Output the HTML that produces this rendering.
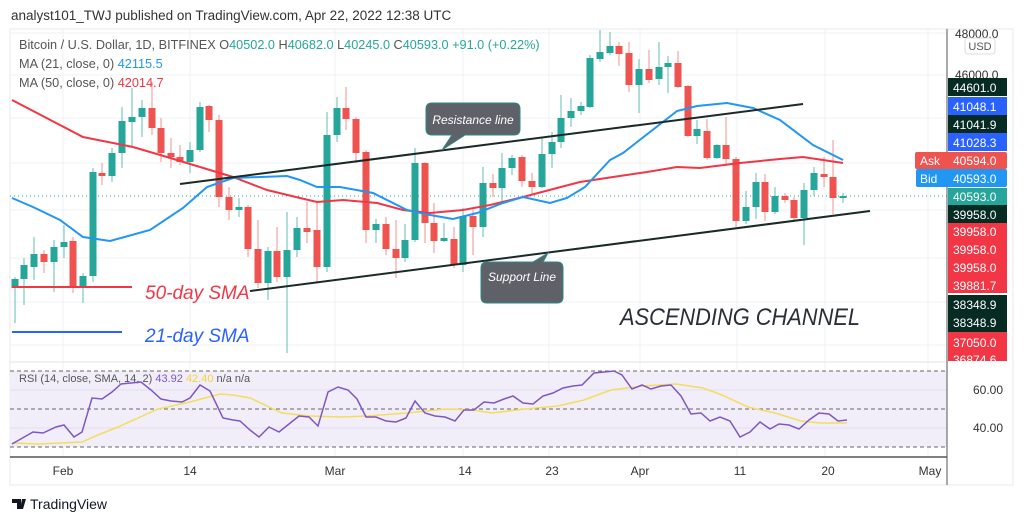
<!DOCTYPE html>
<html><head><meta charset="utf-8"><style>
body{margin:0;background:#fff;width:1024px;height:522px;overflow:hidden;font-family:"Liberation Sans",sans-serif}
</style></head><body>
<svg id="s" width="1024" height="522" viewBox="0 0 1024 522" xmlns="http://www.w3.org/2000/svg" font-family="Liberation Sans, sans-serif">
<text x="11" y="20" font-size="13.5" fill="#333">analyst101_TWJ published on TradingView.com, Apr 22, 2022 12:38 UTC</text>
<rect x="10" y="29" width="1003" height="456" fill="#fff" stroke="#e6e9ef"/>
<g stroke="#eef1f5" stroke-width="1">
<line x1="10" y1="33" x2="947" y2="33"/><line x1="10" y1="75" x2="947" y2="75"/><line x1="10" y1="118" x2="947" y2="118"/><line x1="10" y1="163" x2="947" y2="163"/><line x1="10" y1="210" x2="947" y2="210"/><line x1="10" y1="258" x2="947" y2="258"/><line x1="10" y1="302" x2="947" y2="302"/><line x1="10" y1="345" x2="947" y2="345"/>
<line x1="63" y1="29" x2="63" y2="457"/><line x1="190" y1="29" x2="190" y2="457"/><line x1="335" y1="29" x2="335" y2="457"/><line x1="463" y1="29" x2="463" y2="457"/><line x1="549" y1="29" x2="549" y2="457"/><line x1="640" y1="29" x2="640" y2="457"/><line x1="737" y1="29" x2="737" y2="457"/><line x1="825" y1="29" x2="825" y2="457"/><line x1="928" y1="29" x2="928" y2="457"/>
</g>
<line x1="10" y1="196" x2="947" y2="196" stroke="#26a69a" stroke-dasharray="1,3"/>
<rect x="10" y="371" width="937" height="76" fill="#f1eefa"/>
<line x1="10" y1="390" x2="947" y2="390" stroke="#e2def0"/>
<line x1="10" y1="428" x2="947" y2="428" stroke="#e2def0"/>
<g stroke="#666" stroke-dasharray="4,3"><line x1="10" y1="371" x2="947" y2="371"/><line x1="10" y1="409" x2="947" y2="409"/><line x1="10" y1="447" x2="947" y2="447"/></g>
<line x1="10" y1="362" x2="947" y2="362" stroke="#e0e3eb"/>
<line x1="10" y1="457" x2="947" y2="457" stroke="#555" stroke-width="1.5"/>
<line x1="947" y1="29" x2="947" y2="485" stroke="#555"/>
<g id="c"></g>
<polyline fill="none" stroke="#f23645" stroke-width="2" points="12,100 83,137 133,147 167,157 200,167 233,177 267,190 300,198 317,202 343,200 377,203 403,210 430,213 463,210 490,205 523,197 557,188 580,182 613,177 647,172 677,167 700,168 740,163 780,159 803,157 843,163"/>
<polyline fill="none" stroke="#2196f3" stroke-width="2" points="12,198 33,207 60,220 83,237 110,241 150,230 183,208 207,187 233,178 287,176 300,180 317,187 340,187 373,193 407,210 430,215 453,219 477,213 503,203 523,197 550,203 567,198 585,187 610,160 623,153 650,132 677,111 697,106 727,103 753,108 780,120 813,145 843,160"/>
<g stroke="#1a2a26" stroke-width="2"><line x1="180" y1="184" x2="803" y2="104"/><line x1="250" y1="291" x2="870" y2="211"/></g>
<line x1="12" y1="287" x2="132" y2="287" stroke="#f23645" stroke-width="2"/>
<line x1="12" y1="332" x2="122" y2="332" stroke="#2962ff" stroke-width="2"/>
<text x="145" y="299" font-size="19" font-style="italic" fill="#f23645">50-day SMA</text>
<text x="145" y="342" font-size="19" font-style="italic" fill="#2962ff">21-day SMA</text>
<path d="M432,103 H514 Q520,103 520,109 V129 Q520,135 514,135 H465 L442,150 L452,135 H432 Q426,135 426,129 V109 Q426,103 432,103Z" fill="#5f6169" stroke="#2a8a86"/>
<text x="473" y="124" font-size="12" font-style="italic" fill="#fff" text-anchor="middle">Resistance line</text>
<path d="M487,262 H533 L548,253 L543,262 H557 Q563,262 563,268 V297 Q563,303 557,303 H487 Q481,303 481,297 V268 Q481,262 487,262Z" fill="#5f6169" stroke="#2a8a86"/>
<text x="522" y="281" font-size="12" font-style="italic" fill="#fff" text-anchor="middle">Support Line</text>
<text x="620" y="325" font-size="24" font-style="italic" fill="#2a2e39" textLength="240" lengthAdjust="spacingAndGlyphs">ASCENDING CHANNEL</text>
<g font-size="12.7" fill="#555">
<text x="19" y="49">Bitcoin / U.S. Dollar, 1D, BITFINEX <tspan fill="#555">O</tspan><tspan fill="#26a69a">40502.0</tspan> H<tspan fill="#26a69a">40682.0</tspan> L<tspan fill="#26a69a">40245.0</tspan> C<tspan fill="#26a69a">40593.0</tspan> <tspan fill="#26a69a">+91.0 (+0.22%)</tspan></text>
<text x="19" y="68">MA (21, close, 0) <tspan fill="#2196f3">42115.5</tspan></text>
<text x="19" y="87">MA (50, close, 0) <tspan fill="#f23645">42014.7</tspan></text>
<text x="19" y="382" font-size="11">RSI (14, close, SMA, 14, 2) <tspan fill="#7e57c2">43.92</tspan> <tspan fill="#f2d43c">42.40</tspan> n/a n/a</text>
</g>
<polyline fill="none" stroke="#f5dd5b" stroke-width="1.5" points="12,443 39,444 82,442 98,435 118,427 138,418 158,409 190,402 220,394 233,395 250,398 282,413 309,416 341,417 368,416 407,413 446,409 473,410 492,413 525,409 558,406 584,400 611,390 643,386 676,384 703,388 722,395 748,407 775,413 801,421 821,423 847,423"/>
<polyline fill="none" stroke="#7e57c2" stroke-width="1.5" points="12,444 33,432 43,433 56,427 64,425 74,437 82,432 92,398 102,399 112,392 121,384 131,383 141,382 151,390 161,399 171,401 182,402 190,398 200,385 210,391 223,418 233,420 240,421 250,430 259,437 269,427 279,432 289,424 299,416 309,417 318,426 328,392 338,387 348,390 357,399 366,417 376,417 386,421 396,422 406,418 415,401 425,413 435,416 445,417 455,421 464,410 474,410 484,402 494,403 504,399 513,396 523,403 533,404 543,396 553,393 563,388 573,386 582,385 594,373 604,372 614,371 622,375 632,389 642,385 651,389 661,386 671,385 681,396 691,414 701,413 710,421 720,417 730,421 740,437 750,432 760,422 770,429 779,424 789,425 799,429 809,420 819,413 829,414 838,421 847,420"/>
<g font-size="12" fill="#333" text-anchor="middle">
<text x="63" y="475">Feb</text><text x="190" y="475">14</text><text x="335" y="475">Mar</text><text x="465" y="475">14</text><text x="552" y="475">23</text><text x="640" y="475">Apr</text><text x="740" y="475">11</text><text x="828" y="475">20</text><text x="930" y="475">May</text>
</g>
<g font-size="12" fill="#333">
<text x="955" y="38">48000.0</text><text x="955" y="79">46000.0</text>
<text x="973" y="394">60.00</text><text x="973" y="432">40.00</text>
</g>
<rect x="965" y="38" width="30" height="16" rx="3" fill="#fff" stroke="#ddd"/>
<text x="980" y="50" font-size="11" fill="#555" text-anchor="middle">USD</text>
<g font-size="12" fill="#fff">
<rect x="948" y="78" width="59" height="18" fill="#062b22"/><text x="953" y="92">44601.0</text>
<rect x="948" y="97" width="59" height="18" fill="#2962ff"/><text x="953" y="111">41048.1</text>
<rect x="948" y="115" width="59" height="18" fill="#062b22"/><text x="953" y="129">41041.9</text>
<rect x="948" y="133" width="59" height="18" fill="#2962ff"/><text x="953" y="147">41028.3</text>
<rect x="915" y="152" width="92" height="17" rx="2" fill="#ef5350"/><text x="920" y="165">Ask</text><text x="953" y="165">40594.0</text>
<rect x="916" y="169" width="91" height="18" rx="2" fill="#2196f3"/><text x="920" y="183">Bid</text><text x="953" y="183">40593.0</text>
<rect x="948" y="188" width="59" height="17" fill="#26a69a"/><text x="953" y="201">40593.0</text>
<rect x="948" y="205" width="59" height="18" fill="#062b22"/><text x="953" y="219">39958.0</text>
<rect x="948" y="223" width="59" height="70" fill="#f23645"/><text x="953" y="236">39958.0</text><text x="953" y="254">39958.0</text><text x="953" y="272">39958.0</text><text x="953" y="290">39881.7</text>
<rect x="948" y="295" width="59" height="37" fill="#062b22"/><text x="953" y="309">38348.9</text><text x="953" y="327">38348.9</text>
<rect x="948" y="332" width="59" height="29" fill="#f23645"/><text x="953" y="347">37050.0</text><text x="953" y="364">36874.6</text>
</g>
<rect x="948" y="362" width="64" height="8" fill="#fff"/>
<path d="M12,499 h9 v10 h-4 v-6 h-5z M22,499 h4 l-3,10 h-3z" fill="#131722"/>
<text x="30" y="509" font-size="14" fill="#131722">TradingView</text>
</svg>
<script>
var d=[[15,279,288,277,323,'g'],[24,265,279,258,305,'g'],[34,254,267,237,280,'g'],[44,254,262,250,273,'r'],[54,247,262,240,292,'g'],[64,242,247,225,258,'g'],[73,241,287,237,293,'r'],[83,276,287,273,303,'g'],[93,172,276,168,282,'g'],[102,173,176,163,185,'r'],[112,153,176,148,182,'g'],[122,121,153,107,168,'g'],[132,117,122,88,147,'g'],[142,108,117,100,137,'g'],[152,108,128,82,135,'r'],[161,128,153,118,162,'r'],[171,153,157,138,168,'r'],[180,157,162,145,165,'r'],[190,150,162,142,173,'g'],[200,107,150,102,152,'g'],[209,106,120,105,132,'r'],[219,120,197,115,207,'r'],[229,197,210,187,220,'r'],[239,207,210,198,217,'g'],[248,207,249,205,257,'r'],[258,249,283,220,288,'r'],[268,251,283,247,300,'g'],[277,251,277,227,282,'r'],[287,250,277,212,353,'g'],[297,228,250,217,257,'g'],[307,228,232,202,243,'r'],[317,230,267,203,282,'r'],[327,135,267,112,272,'g'],[337,108,135,97,142,'g'],[346,108,119,87,130,'r'],[356,119,153,117,163,'r'],[366,152,230,150,243,'r'],[376,224,230,219,243,'g'],[386,224,249,217,255,'r'],[396,249,258,220,278,'r'],[405,240,258,224,262,'g'],[415,163,240,148,242,'g'],[425,163,223,162,243,'r'],[434,223,241,203,253,'r'],[444,238,241,223,242,'g'],[454,239,265,227,268,'r'],[463,216,265,208,272,'g'],[473,216,227,210,255,'r'],[483,183,227,167,237,'g'],[493,183,188,174,197,'r'],[502,168,188,153,203,'g'],[512,158,168,155,175,'g'],[522,157,181,155,187,'r'],[532,181,187,173,195,'r'],[542,154,187,138,188,'g'],[552,142,154,132,168,'g'],[561,118,142,95,148,'g'],[571,111,118,98,127,'g'],[581,106,111,102,115,'g'],[590,58,107,55,108,'g'],[600,52,59,30,62,'g'],[610,46,53,32,55,'g'],[619,46,54,42,66,'r'],[629,53,85,42,92,'r'],[639,69,85,59,113,'g'],[649,69,80,50,83,'r'],[659,67,79,42,85,'g'],[668,63,67,56,93,'g'],[678,63,87,51,88,'r'],[688,86,136,85,137,'r'],[697,129,136,120,144,'g'],[707,131,158,119,160,'r'],[717,145,158,144,159,'g'],[726,145,159,117,166,'r'],[736,159,221,157,227,'r'],[746,207,221,191,224,'g'],[756,182,207,173,219,'g'],[765,182,212,174,221,'r'],[775,196,212,187,214,'g'],[785,196,200,193,203,'r'],[794,200,218,197,220,'r'],[804,190,218,183,245,'g'],[814,173,190,167,196,'g'],[824,174,177,157,187,'r'],[833,177,198,140,214,'r'],[843,196,197,193,203,'g']];
var g=document.getElementById('c'),h='';
d.forEach(function(a){var col=a[5]=='g'?'#26a69a':'#ef5350';var wc=a[5]=='g'?'#7cc9c1':'#f5a3a1';
h+='<line x1="'+a[0]+'" y1="'+a[3]+'" x2="'+a[0]+'" y2="'+a[4]+'" stroke="'+wc+'" stroke-width="1.2"/>';
h+='<rect x="'+(a[0]-3.5)+'" y="'+a[1]+'" width="7" height="'+Math.max(2,a[2]-a[1])+'" fill="'+col+'"/>';});
g.innerHTML=h;
</script>
</body></html>
